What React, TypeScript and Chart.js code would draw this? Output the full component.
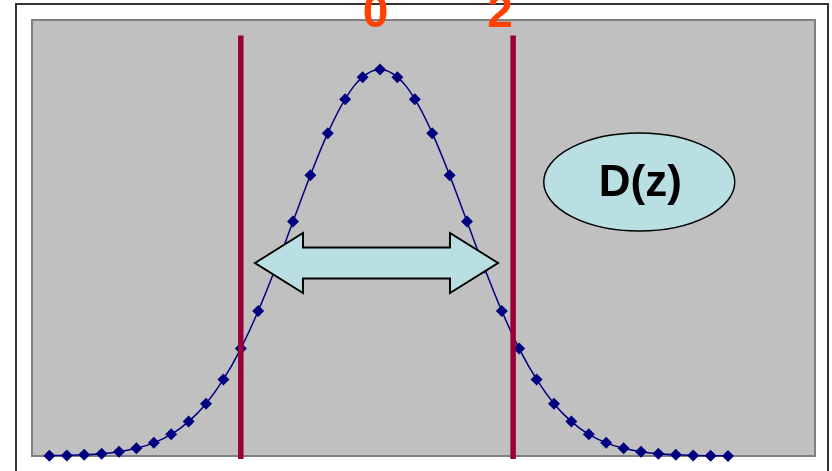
import React, { useEffect, useRef } from "react";
import { Chart, registerables } from "chart.js";

Chart.register(...registerables);

// z values of the plotted points
const zValues: number[] = [
  -3.8, -3.6, -3.4, -3.2, -3.0, -2.8, -2.6, -2.4, -2.2, -2.0,
  -1.8, -1.6, -1.4, -1.2, -1.0, -0.8, -0.6, -0.4, -0.2, 0.0,
  0.2, 0.4, 0.6, 0.8, 1.0, 1.2, 1.4, 1.6, 1.8, 2.0,
  2.2, 2.4, 2.6, 2.8, 3.0, 3.2, 3.4, 3.6, 3.8, 4.0,
];
// density values
const densityValues: number[] = [
  0.0003, 0.0006, 0.0012, 0.0024, 0.0044, 0.0079, 0.0136, 0.0224, 0.0355, 0.054,
  0.079, 0.1109, 0.1497, 0.1942, 0.242, 0.2897, 0.3332, 0.3683, 0.391, 0.3989,
  0.391, 0.3683, 0.3332, 0.2897, 0.242, 0.1942, 0.1497, 0.1109, 0.079, 0.054,
  0.0355, 0.0224, 0.0136, 0.0079, 0.0044, 0.0024, 0.0012, 0.0006, 0.0003, 0.0001,
];
// vertical marker lines
const markerLineX: number[] = [-1.6, 1.53];
const markerLineTop = 0.434;
const markerLineBottom = -0.003;
// labels on top
const topLabels: string[] = ["0", "2"];
const topLabelX: number[] = [-0.05, 1.38];
// double arrow (z range, level)
const arrowFrom = -1.437;
const arrowTo = 1.356;
const arrowLevel = 0.1992;
// ellipse label
const ellipseText = "D(z)";
const ellipseX = 2.98;
const ellipseY = 0.2828;

const xMin = -4;
const xMax = 5;
const yMin = 0;
const yMax = 0.45;

export default function App() {
  const ref = useRef<HTMLCanvasElement | null>(null);

  useEffect(() => {
    const canvas = ref.current;
    if (!canvas) return;

    const decor = {
      id: "decor",
      beforeDraw(chart: any) {
        const ctx = chart.ctx;
        const a = chart.chartArea;
        ctx.save();
        ctx.fillStyle = "#ffffff";
        ctx.fillRect(0, 0, chart.width, chart.height);
        // outer frame
        ctx.strokeStyle = "#333333";
        ctx.lineWidth = 2;
        ctx.strokeRect(a.left - 16, a.top - 16, a.right - a.left + 29, a.bottom - a.top + 40);
        // plot area
        ctx.fillStyle = "#c0c0c0";
        ctx.fillRect(a.left, a.top, a.right - a.left, a.bottom - a.top);
        ctx.strokeStyle = "#808080";
        ctx.lineWidth = 2;
        ctx.strokeRect(a.left, a.top, a.right - a.left, a.bottom - a.top);
        ctx.restore();
      },
      afterDatasetsDraw(chart: any) {
        const ctx = chart.ctx;
        const xs = chart.scales.x;
        const ys = chart.scales.y;
        ctx.save();
        // arrow
        const x1 = xs.getPixelForValue(arrowFrom);
        const x2 = xs.getPixelForValue(arrowTo);
        const cy = ys.getPixelForValue(arrowLevel);
        const headLen = 48;
        const headH = 30;
        const shaftH = 15.5;
        ctx.beginPath();
        ctx.moveTo(x1, cy);
        ctx.lineTo(x1 + headLen, cy - headH);
        ctx.lineTo(x1 + headLen, cy - shaftH);
        ctx.lineTo(x2 - headLen, cy - shaftH);
        ctx.lineTo(x2 - headLen, cy - headH);
        ctx.lineTo(x2, cy);
        ctx.lineTo(x2 - headLen, cy + headH);
        ctx.lineTo(x2 - headLen, cy + shaftH);
        ctx.lineTo(x1 + headLen, cy + shaftH);
        ctx.lineTo(x1 + headLen, cy + headH);
        ctx.closePath();
        ctx.fillStyle = "#b9dfe3";
        ctx.fill();
        ctx.strokeStyle = "#000000";
        ctx.lineWidth = 2;
        ctx.lineJoin = "miter";
        ctx.stroke();
        // ellipse
        const ex = xs.getPixelForValue(ellipseX);
        const ey = ys.getPixelForValue(ellipseY);
        ctx.beginPath();
        ctx.ellipse(ex, ey, 95.5, 49, 0, 0, Math.PI * 2);
        ctx.fillStyle = "#b9dfe3";
        ctx.fill();
        ctx.lineWidth = 1.5;
        ctx.strokeStyle = "#000000";
        ctx.stroke();
        ctx.fillStyle = "#000000";
        ctx.font = "bold 44px 'Liberation Sans', Arial, sans-serif";
        ctx.textAlign = "center";
        ctx.textBaseline = "middle";
        ctx.fillText(ellipseText, ex + 1, ey + 2);
        // top labels
        ctx.fillStyle = "#ff4000";
        ctx.font = "bold 46px 'Liberation Sans', Arial, sans-serif";
        ctx.textBaseline = "alphabetic";
        topLabels.forEach((t, i) => {
          ctx.fillText(t, xs.getPixelForValue(topLabelX[i]), 27);
        });
        ctx.restore();
      },
    };

    const curve = zValues.map((z, i) => ({ x: z, y: densityValues[i] }));
    const lineSets = markerLineX.map((lx) => ({
      type: "line" as const,
      data: [
        { x: lx, y: markerLineTop },
        { x: lx, y: markerLineBottom },
      ],
      borderColor: "#99003a",
      borderWidth: 5.5,
      pointRadius: 0,
      showLine: true,
      clip: false as any,
      order: 0,
      tension: 0,
    }));

    const chart = new Chart(canvas, {
      type: "scatter",
      data: {
        datasets: [
          ...lineSets,
          {
            type: "line" as const,
            data: curve,
            borderColor: "#000080",
            borderWidth: 1.5,
            backgroundColor: "#000080",
            pointStyle: "rectRot",
            pointRadius: 6,
            pointBorderWidth: 0,
            pointBackgroundColor: "#000080",
            showLine: true,
            tension: 0.4,
            clip: false as any,
            order: 1,
          },
        ] as any,
      },
      options: {
        responsive: false,
        animation: false,
        layout: { padding: { left: 32, top: 20, right: 17, bottom: 15 } },
        plugins: { legend: { display: false }, tooltip: { enabled: false } },
        scales: {
          x: { type: "linear", min: xMin, max: xMax, display: false },
          y: { type: "linear", min: yMin, max: yMax, display: false },
        },
      },
      plugins: [decor],
    });
    return () => chart.destroy();
  }, []);

  return (
    <div style={{ position: "fixed", left: 0, top: 0, width: 832, height: 471 }}>
      <canvas ref={ref} width={832} height={471} />
    </div>
  );
}
